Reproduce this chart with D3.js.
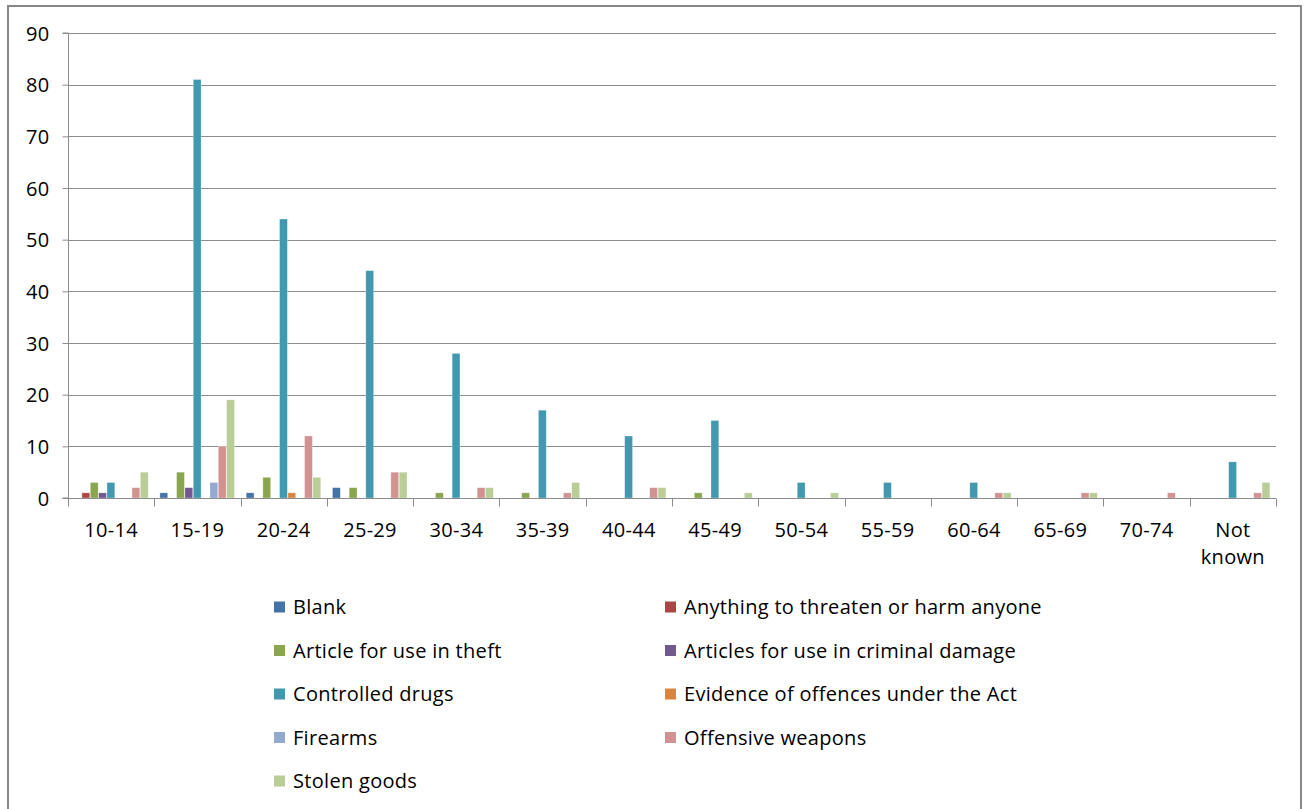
<!DOCTYPE html>
<html><head><meta charset="utf-8">
<script src="https://cdn.jsdelivr.net/npm/d3@7"></script>
<style>body{margin:0;background:#fff}svg{display:block}text{font-family:"Open Sans","Liberation Sans",sans-serif;fill:#000}</style>
</head><body><svg id="c" width="1307" height="809"></svg>
<script>
const categories = ["10-14","15-19","20-24","25-29","30-34","35-39","40-44","45-49","50-54","55-59","60-64","65-69","70-74","Not known"];
const seriesNames = ["Blank","Anything to threaten or harm anyone","Article for use in theft","Articles for use in criminal damage","Controlled drugs","Evidence of offences under the Act","Firearms","Offensive weapons","Stolen goods"];
const seriesColors = ["#4572A7","#AA4643","#89A54E","#71588F","#4198AF","#DB843D","#93A9CF","#D19392","#B9CD96"];
const blank          = [0,1,1,2,0,0,0,0,0,0,0,0,0,0];
const threaten       = [1,0,0,0,0,0,0,0,0,0,0,0,0,0];
const theft          = [3,5,4,2,1,1,0,1,0,0,0,0,0,0];
const criminalDamage = [1,2,0,0,0,0,0,0,0,0,0,0,0,0];
const drugs          = [3,81,54,44,28,17,12,15,3,3,3,0,0,7];
const evidence       = [0,0,1,0,0,0,0,0,0,0,0,0,0,0];
const firearms       = [0,3,0,0,0,0,0,0,0,0,0,0,0,0];
const weapons        = [2,10,12,5,2,1,2,0,0,0,1,1,1,1];
const stolen         = [5,19,4,5,2,3,2,1,1,0,1,1,0,3];
const yTicks = [0,10,20,30,40,50,60,70,80,90];
const seriesValues = [blank,threaten,theft,criminalDamage,drugs,evidence,firearms,weapons,stolen];

const svg = d3.select("#c");
svg.append("path").attr("d","M8,812 L8,6 L1301,6 L1301,812").attr("fill","none").attr("stroke","#878787").attr("stroke-width",2);

const L=68,R=1276,T=33,B=498;
const x0 = d3.scaleBand().domain(categories).range([L,R]).padding(0);
const gap = x0.bandwidth()*0.065;
const x1 = d3.scaleBand().domain(seriesNames).range([gap, x0.bandwidth()-gap]).padding(0);
const y = d3.scaleLinear().domain([0,90]).range([B,T]);

svg.append("g").selectAll("line").data(yTicks.filter(d=>d>0)).join("line")
  .attr("x1",L).attr("x2",R).attr("y1",d=>Math.round(y(d))+0.5).attr("y2",d=>Math.round(y(d))+0.5)
  .attr("stroke","#8c8c8c").attr("stroke-width",1);

const g = svg.append("g");
categories.forEach((c,ci)=>{
  seriesNames.forEach((s,si)=>{
    const v = seriesValues[si][ci];
    if(v<=0) return;
    g.append("rect").attr("x",x0(c)+x1(s)).attr("width",x1.bandwidth()-0.5)
      .attr("y",y(v)).attr("height",B-y(v)).attr("fill",seriesColors[si])
      .attr("stroke","rgba(255,255,255,0.5)").attr("stroke-width",0.6);
  });
});

const ya = svg.append("g").attr("transform",`translate(${L+0.5},0)`)
  .call(d3.axisLeft(y).tickValues(yTicks).tickSize(6).tickPadding(13).tickFormat(d3.format("d")));
ya.select(".domain").attr("stroke","#8c8c8c").attr("d",`M-6,${B}H0V${T}H-6`);
ya.selectAll(".tick line").attr("stroke","#8c8c8c");
ya.selectAll(".tick text").attr("font-size",20).attr("letter-spacing","0.3px").attr("font-family","Open Sans, Liberation Sans, sans-serif").attr("fill","#000").attr("dy","0.35em");

const xa = svg.append("g").attr("transform",`translate(0,${B+0.5})`);
xa.append("line").attr("x1",L).attr("x2",R).attr("stroke","#8c8c8c");
const bounds = categories.map(c=>x0(c)).concat([R]);
xa.selectAll("line.t").data(bounds).join("line").attr("class","t")
  .attr("x1",d=>Math.round(d)+0.5).attr("x2",d=>Math.round(d)+0.5).attr("y1",0).attr("y2",8).attr("stroke","#8c8c8c");
categories.forEach(c=>{
  const parts = c==="Not known" ? ["Not","known"] : [c];
  const t = xa.append("text").attr("text-anchor","middle").attr("font-size",20).attr("letter-spacing","0.3px").attr("x",x0(c)+x0.bandwidth()/2);
  parts.forEach((p,i)=>t.append("tspan").attr("x",x0(c)+x0.bandwidth()/2).attr("y",38+i*27).text(p));
});

const lg = svg.append("g");
seriesNames.forEach((s,i)=>{
  const col = i%2, row = Math.floor(i/2);
  const lx = col===0 ? 274 : 665, ly = 607 + row*43.5;
  lg.append("rect").attr("x",lx).attr("y",ly-5.5).attr("width",11).attr("height",11).attr("fill",seriesColors[i]);
  lg.append("text").attr("x",lx+19).attr("y",ly).attr("dy","0.35em").attr("font-size",20).attr("letter-spacing","0.3px").text(s);
});
</script></body></html>
